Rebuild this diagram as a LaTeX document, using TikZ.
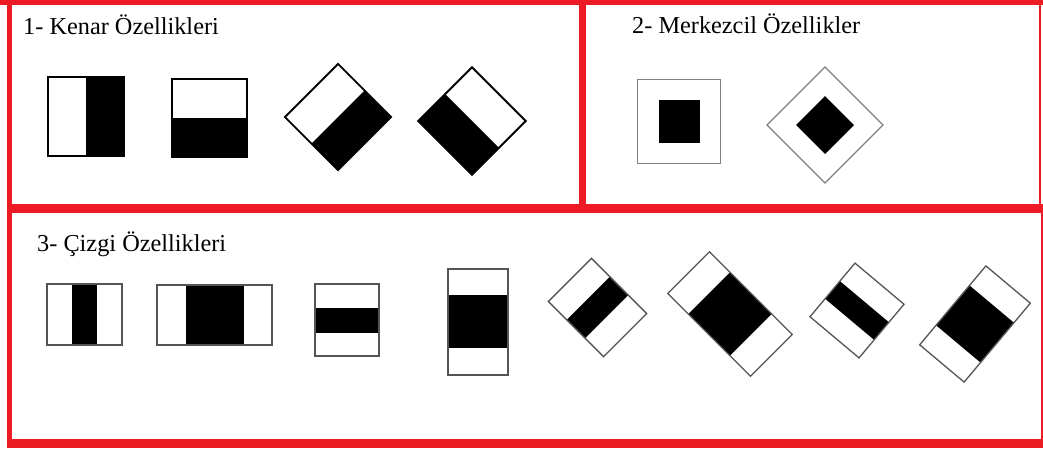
\documentclass[tikz,border=0pt]{standalone}
\usepackage{fontspec}
\setmainfont{Liberation Serif}
\definecolor{framered}{RGB}{237,28,36}
\definecolor{edgegray}{RGB}{85,85,85}
\tikzset{
    redframe/.style={draw=framered},
    cellbox/.style={draw=black, line width=1.8pt, line join=miter},
    thinbox/.style={draw=edgegray, line width=1.3pt, line join=miter},
    band/.style={fill=black},
    title/.style={inner sep=0pt, anchor=base west, font=\fontsize{24.3}{29}\selectfont}
}

\begin{document}
\begin{tikzpicture}[x=1pt,y=-1pt]
    \useasboundingbox[fill=white] (0,0) rectangle (1043,448);
    % frames
    \draw[redframe, line width=5pt] (0,2.5) -- (1043,2.5);
    \draw[redframe, line width=5pt] (9.5,0) -- (9.5,448);
    \draw[redframe, line width=9pt] (7,208.5) -- (1043,208.5);
    \draw[redframe, line width=7pt] (582,0) -- (582,208.5);
    \draw[redframe, line width=9pt] (7,443.5) -- (1043,443.5);
    \draw[redframe, line width=2pt] (1039.5,0) -- (1039.5,208.5);
    \draw[redframe, line width=2pt] (1042,208.5) -- (1042,448);
    \node[title] (edge) at (23,34) {1- Kenar Özellikleri};
    \node[title] (centre) at (632,33) {2- Merkezcil Özellikler};
    \node[title] (line) at (37,251) {3- Çizgi Özellikleri};
    % 1 : edge features
    \begin{scope}[shift={(86,116.5)}]
        \fill[band] (0,-39.5) rectangle (38,39.5);
        \draw[cellbox] (-38,-39.5) rectangle (38,39.5);
    \end{scope}
    \begin{scope}[shift={(209.5,118)}]
        \fill[band] (-37.5,0) rectangle (37.5,39);
        \draw[cellbox] (-37.5,-39) rectangle (37.5,39);
    \end{scope}
    \begin{scope}[shift={(338,117)}, rotate=-45]
        \fill[band] (0,-37.5) rectangle (37.5,37.5);
        \draw[cellbox] (-37.5,-37.5) rectangle (37.5,37.5);
    \end{scope}
    \begin{scope}[shift={(472,121)}, rotate=-45]
        \fill[band] (-38,0) rectangle (38,38);
        \draw[cellbox] (-38,-38) rectangle (38,38);
    \end{scope}
    % 2 : centre-surround features
    \begin{scope}[shift={(679,121.5)}]
        \fill[band] (-20.5,-21.5) rectangle (20.5,21.5);
        \draw[thinbox, draw=gray] (-41.5,-42) rectangle (41.5,42);
    \end{scope}
    \begin{scope}[shift={(825,125)}, rotate=45]
        \fill[band] (-20.5,-20.5) rectangle (20.5,20.5);
        \draw[thinbox, draw=gray] (-41,-41) rectangle (41,41);
    \end{scope}
    % 3 : line features
    \begin{scope}[shift={(84.5,314.5)}]
        \fill[band] (-12.5,-30.5) rectangle (12.5,30.5);
        \draw[thinbox] (-37.5,-30.5) rectangle (37.5,30.5);
    \end{scope}
    \begin{scope}[shift={(214.5,315)}]
        \fill[band] (-29,-30) rectangle (29,30);
        \draw[thinbox] (-57.5,-30) rectangle (57.5,30);
    \end{scope}
    \begin{scope}[shift={(347,320)}]
        \fill[band] (-32,-12) rectangle (32,12.5);
        \draw[thinbox] (-32,-36) rectangle (32,36);
    \end{scope}
    \begin{scope}[shift={(478,322)}]
        \fill[band] (-30,-27) rectangle (30,26);
        \draw[thinbox] (-30,-53) rectangle (30,53);
    \end{scope}
    \begin{scope}[shift={(597.5,307.5)}, rotate=-45]
        \fill[band] (-13,-30.5) rectangle (13,30.5);
        \draw[thinbox] (-39,-30.5) rectangle (39,30.5);
    \end{scope}
    \begin{scope}[shift={(730,314)}, rotate=-45]
        \fill[band] (-29.5,-29.5) rectangle (29.5,29.5);
        \draw[thinbox] (-58.5,-29.5) rectangle (58.5,29.5);
    \end{scope}
    \begin{scope}[shift={(857,310.5)}, rotate=-40]
        \fill[band] (-32,-11.5) rectangle (32,11.5);
        \draw[thinbox] (-32,-35) rectangle (32,35);
    \end{scope}
    \begin{scope}[shift={(975,324)}, rotate=-40]
        \fill[band] (-29,-26) rectangle (29,26);
        \draw[thinbox] (-29,-51.5) rectangle (29,51.5);
    \end{scope}
\end{tikzpicture}
\end{document}
